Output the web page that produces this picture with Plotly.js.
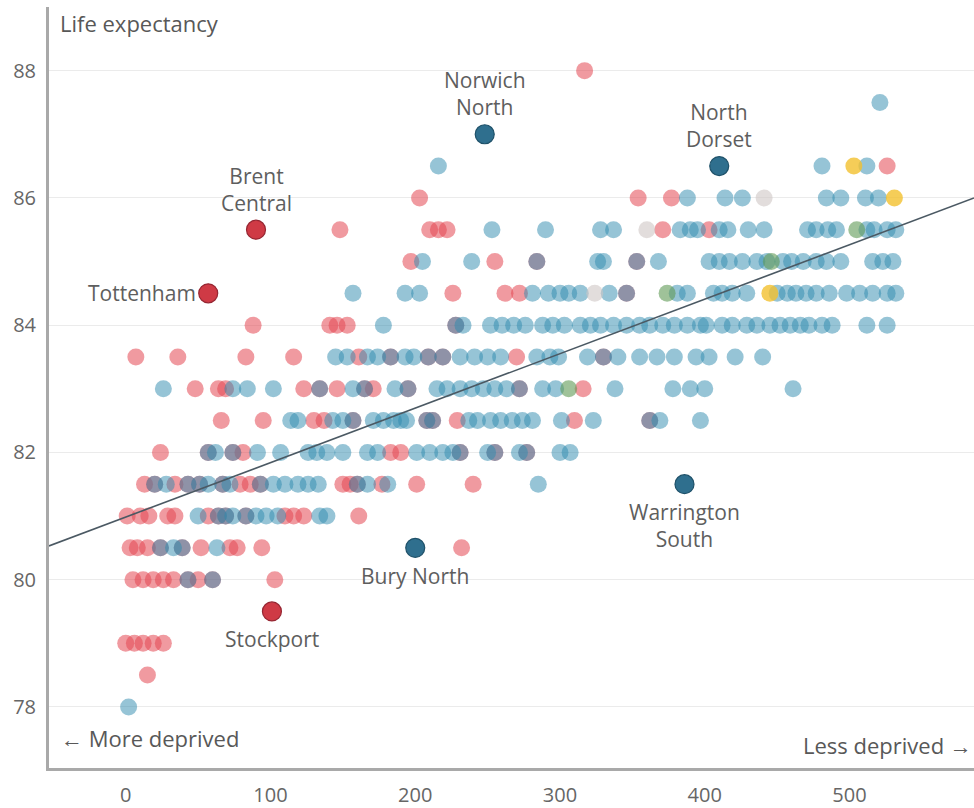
<!DOCTYPE html>
<html>
<head>
<meta charset="utf-8">
<script src="https://cdn.plot.ly/plotly-3.0.1.min.js"></script>
<style>html,body{margin:0;padding:0;background:#fff}#chart{width:974px;height:808px}</style>
</head>
<body>
<div id="chart"></div>
<script>
// Labour-held constituencies (deprivation rank, life expectancy)
var labX = [
  317,
  526,
  203,354,377,
  148,210,216,222,371,403,
  197,255,284,353,
  226,262,272,346,
  88,141,146,153,228,
  7,36,83,116,161,183,209,219,270,330,
  48,64,69,123,134,146,165,171,195,272,316,
  66,95,130,137,157,208,212,229,310,362,
  24,57,74,81,183,190,231,255,277,
  13,20,34,43,51,67,79,86,93,150,155,160,177,201,240,
  1,10,16,29,34,57,64,69,83,110,116,123,161,
  3,8,15,24,39,52,72,77,94,232,
  5,12,19,26,33,43,50,60,103,
  0,6,12,19,26,
  15
];
var labY = [
  88,
  86.5,
  86,86,86,
  85.5,85.5,85.5,85.5,85.5,85.5,
  85,85,85,85,
  84.5,84.5,84.5,84.5,
  84,84,84,84,84,
  83.5,83.5,83.5,83.5,83.5,83.5,83.5,83.5,83.5,83.5,
  83,83,83,83,83,83,83,83,83,83,83,
  82.5,82.5,82.5,82.5,82.5,82.5,82.5,82.5,82.5,82.5,
  82,82,82,82,82,82,82,82,82,
  81.5,81.5,81.5,81.5,81.5,81.5,81.5,81.5,81.5,81.5,81.5,81.5,81.5,81.5,81.5,
  81,81,81,81,81,81,81,81,81,81,81,81,81,
  80.5,80.5,80.5,80.5,80.5,80.5,80.5,80.5,80.5,80.5,
  80,80,80,80,80,80,80,80,80,
  79,79,79,79,79,
  78.5
];
// Conservative-held constituencies
var conX = [
  521,
  216,481,512,
  388,414,426,484,494,511,520,
  253,290,328,337,383,390,395,410,416,430,441,471,477,485,491,512,517,526,532,
  205,239,284,326,330,353,368,403,410,417,426,436,443,454,460,468,477,484,494,516,523,530,
  157,193,203,281,292,300,306,314,334,346,381,388,406,412,419,429,450,457,463,470,477,486,498,507,516,526,532,
  178,228,233,252,260,268,276,288,295,303,314,321,328,337,346,355,362,371,379,388,397,401,412,419,429,436,445,452,459,466,472,481,488,512,526,
  145,153,167,174,183,193,199,209,219,231,241,250,259,284,293,299,319,330,340,355,367,379,394,403,421,440,
  26,74,84,102,134,157,165,186,195,215,222,231,239,247,255,263,272,288,297,338,378,390,400,461,
  114,119,143,150,157,171,178,185,190,194,208,212,237,243,252,259,267,274,281,301,323,362,369,397,
  57,62,74,91,107,126,132,139,150,167,174,201,210,219,226,231,250,255,272,277,300,307,
  20,28,43,51,57,67,72,93,102,110,119,126,133,160,167,181,285,
  50,64,69,74,83,90,97,105,134,139,
  24,33,39,63,
  43,60,
  2
];
var conY = [
  87.5,
  86.5,86.5,86.5,
  86,86,86,86,86,86,86,
  85.5,85.5,85.5,85.5,85.5,85.5,85.5,85.5,85.5,85.5,85.5,85.5,85.5,85.5,85.5,85.5,85.5,85.5,85.5,
  85,85,85,85,85,85,85,85,85,85,85,85,85,85,85,85,85,85,85,85,85,85,
  84.5,84.5,84.5,84.5,84.5,84.5,84.5,84.5,84.5,84.5,84.5,84.5,84.5,84.5,84.5,84.5,84.5,84.5,84.5,84.5,84.5,84.5,84.5,84.5,84.5,84.5,84.5,
  84,84,84,84,84,84,84,84,84,84,84,84,84,84,84,84,84,84,84,84,84,84,84,84,84,84,84,84,84,84,84,84,84,84,84,
  83.5,83.5,83.5,83.5,83.5,83.5,83.5,83.5,83.5,83.5,83.5,83.5,83.5,83.5,83.5,83.5,83.5,83.5,83.5,83.5,83.5,83.5,83.5,83.5,83.5,83.5,
  83,83,83,83,83,83,83,83,83,83,83,83,83,83,83,83,83,83,83,83,83,83,83,83,
  82.5,82.5,82.5,82.5,82.5,82.5,82.5,82.5,82.5,82.5,82.5,82.5,82.5,82.5,82.5,82.5,82.5,82.5,82.5,82.5,82.5,82.5,82.5,82.5,
  82,82,82,82,82,82,82,82,82,82,82,82,82,82,82,82,82,82,82,82,82,82,
  81.5,81.5,81.5,81.5,81.5,81.5,81.5,81.5,81.5,81.5,81.5,81.5,81.5,81.5,81.5,81.5,81.5,
  81,81,81,81,81,81,81,81,81,81,
  80.5,80.5,80.5,80.5,
  80,80,
  78
];
// Liberal Democrat, Green/other and Speaker seats
var ldX = [503, 531, 445];
var ldY = [86.5, 86, 84.5];
var grnX = [505, 446, 374, 306];
var grnY = [85.5, 85, 84.5, 83];
var othX = [441, 360, 324];
var othY = [86, 85.5, 84.5];
// Highlighted constituencies
var hlConNames = ['Norwich<br>North', 'North<br>Dorset', 'Bury North', 'Warrington<br>South'];
var hlConX = [248, 410, 200, 386];
var hlConY = [87, 86.5, 80.5, 81.5];
var hlLabNames = ['Brent<br>Central', 'Tottenham', 'Stockport'];
var hlLabX = [90, 57, 101];
var hlLabY = [85.5, 84.5, 79.5];
// Trend line end points
var trendX = [-53, 586];
var trendY = [80.53, 86.0];
// Axis ticks
var xTicks = [0, 100, 200, 300, 400, 500];
var yTicks = [78, 80, 82, 84, 86, 88];

var FONT = 'Open Sans, Roboto, sans-serif';
var RED = '#e44752', BLUE = '#2e89ad';

function dots(x, y, color, op) {
  return {type: 'scatter', mode: 'markers', x: x, y: y, hoverinfo: 'skip',
    marker: {size: 17, color: color, opacity: op, line: {width: 0}}};
}
var traces = [
  dots(labX, labY, RED, 0.55),
  dots(conX, conY, BLUE, 0.5),
  dots(ldX, ldY, '#f2c12e', 0.8),
  dots(grnX, grnY, '#5f9a55', 0.6),
  dots(othX, othY, '#cfc7c4', 0.6),
  {type: 'scatter', mode: 'lines', x: trendX, y: trendY, hoverinfo: 'skip',
    line: {color: '#4b5963', width: 1.6}},
  {type: 'scatter', mode: 'markers', x: hlConX, y: hlConY, hoverinfo: 'skip',
    marker: {size: 19, color: '#2f6f8e', line: {color: '#1f5169', width: 1.2}}},
  {type: 'scatter', mode: 'markers', x: hlLabX, y: hlLabY, hoverinfo: 'skip',
    marker: {size: 19, color: '#cf3a45', line: {color: '#962632', width: 1.2}}}
];

var labFont = {family: FONT, size: 21, color: '#5e5e5e'};
var ann = [];
function place(name, x, y) {
  var a = {x: x, y: y, xref: 'x', yref: 'y', text: name, showarrow: false, font: labFont};
  if (name === 'Tottenham') { a.xanchor = 'right'; a.yanchor = 'middle'; a.xshift = -10; }
  else if (name === 'Stockport' || name === 'Bury North' || name.indexOf('Warrington') === 0) {
    a.xanchor = 'center'; a.yanchor = 'top'; a.yshift = -12;
  } else { a.xanchor = 'center'; a.yanchor = 'bottom'; a.yshift = 11; }
  ann.push(a);
}
hlConNames.forEach(function (n, i) { place(n, hlConX[i], hlConY[i]); });
hlLabNames.forEach(function (n, i) { place(n, hlLabX[i], hlLabY[i]); });
var sideFont = {family: FONT, size: 22, color: '#585858', weight: 500};
ann.push({xref: 'paper', yref: 'paper', x: 0.01, y: 1.001, xanchor: 'left', yanchor: 'top',
  text: 'Life expectancy', showarrow: false, font: sideFont});
ann.push({xref: 'paper', yref: 'paper', x: 0.011, y: 0.039, xanchor: 'left', yanchor: 'middle',
  text: '\u2190 More deprived', showarrow: false, font: sideFont});
ann.push({xref: 'paper', yref: 'paper', x: 1, y: 0.030, xanchor: 'right', yanchor: 'middle',
  text: 'Less deprived \u2192', showarrow: false, font: sideFont});

var layout = {
  width: 974, height: 808,
  margin: {l: 49, r: 0, t: 7, b: 40},
  paper_bgcolor: '#fff', plot_bgcolor: '#fff',
  showlegend: false,
  font: {family: FONT, color: '#666'},
  xaxis: {range: [-53, 586], tickvals: xTicks, ticktext: xTicks.map(String), showgrid: false,
    zeroline: false, showline: true, linecolor: '#a9a9a9', linewidth: 3, ticks: '',
    tickfont: {family: FONT, size: 20, color: '#666'}, ticklabelstandoff: 7},
  yaxis: {range: [77.04, 89], tickvals: yTicks, ticktext: yTicks.map(String), showgrid: true,
    gridcolor: '#ebebeb', gridwidth: 1, zeroline: false, showline: true, linecolor: '#a9a9a9',
    linewidth: 3, ticks: '', tickfont: {family: FONT, size: 20, color: '#666'}, ticklabelstandoff: 6},
  annotations: ann
};
Plotly.newPlot('chart', traces, layout, {staticPlot: true, displayModeBar: false});
</script>
</body>
</html>
